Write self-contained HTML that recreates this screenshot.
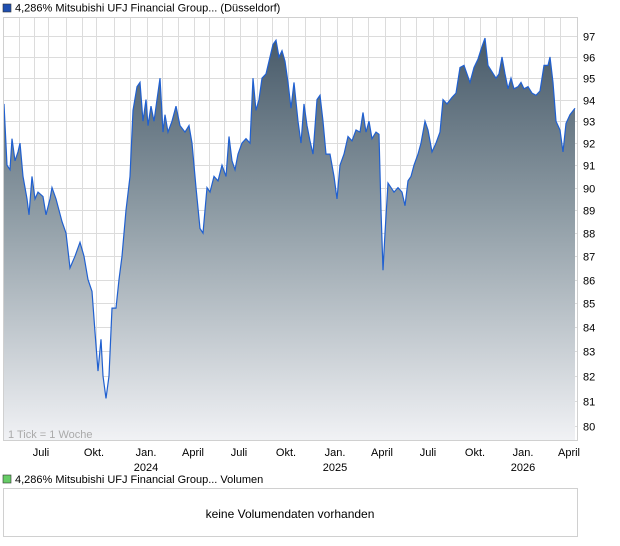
<!DOCTYPE html>
<html><head><meta charset="utf-8"><style>
body{margin:0;background:#fff;font-family:"Liberation Sans",sans-serif;}
svg{display:block}
</style></head><body>
<svg id="s" width="620" height="546" xmlns="http://www.w3.org/2000/svg" font-family="Liberation Sans, sans-serif">
<defs><linearGradient id="g" x1="0" y1="17" x2="0" y2="441" gradientUnits="userSpaceOnUse">
<stop offset="0" stop-color="#3f5262"/><stop offset="0.45" stop-color="#8c9aa3"/><stop offset="1" stop-color="#f1f2f5"/></linearGradient></defs>
<rect x="3" y="4" width="8" height="8" fill="#1f4fb0" stroke="#333" stroke-width="0.6"/>
<text x="15" y="11.5" font-size="11" fill="#000">4,286% Mitsubishi UFJ Financial Group... (Düsseldorf)</text>
<g id="grid" stroke="#dcdcdc" stroke-width="1"></g>
<path id="area" fill="url(#g)"/>
<path id="line" fill="none" stroke="#2060d0" stroke-width="1.2"/>
<rect x="3.5" y="17.5" width="574" height="423" fill="none" stroke="#d0d0d0"/>
<g id="yl" font-size="11" fill="#000"></g>
<g id="xl" font-size="11" fill="#000" text-anchor="middle"></g>
<text x="8" y="438" font-size="11" fill="#aaa">1 Tick = 1 Woche</text>
<rect x="3" y="475" width="8" height="8" fill="#6c6" stroke="#333" stroke-width="0.6"/>
<text x="15" y="483" font-size="11" fill="#000">4,286% Mitsubishi UFJ Financial Group... Volumen</text>
<rect x="3.5" y="488.5" width="574" height="48" fill="#fff" stroke="#d0d0d0"/>
<text x="290" y="518" font-size="12" fill="#000" text-anchor="middle">keine Volumendaten vorhanden</text>
</svg>
<script>
var NS="http://www.w3.org/2000/svg";
function Y(v){return 36+2024*(Math.log(97)-Math.log(v));}
var grid=document.getElementById('grid'),yl=document.getElementById('yl'),xl=document.getElementById('xl');
function el(p,t,a){var e=document.createElementNS(NS,t);for(var k in a)e.setAttribute(k,a[k]);p.appendChild(e);return e;}
for(var v=80;v<=97;v++){var y=Math.round(Y(v))+0.5;el(grid,'line',{x1:3,x2:577,y1:y,y2:y});var t=el(yl,'text',{x:583,y:y+4});t.textContent=v;}
var gx=[19,34,48,66,82,96,114,130,147,162,178,194,209,224,240,257,272,288,305,320,337,352,368,385,400,416,433,448,464,480,496,512,528,544,560];
gx.forEach(function(x){el(grid,'line',{x1:x+.5,x2:x+.5,y1:17,y2:441});});
var lab=[[41,"Juli"],[94,"Okt."],[146,"Jan.","2024"],[193,"April"],[239,"Juli"],[286,"Okt."],[335,"Jan.","2025"],[382,"April"],[428,"Juli"],[475,"Okt."],[523,"Jan.","2026"],[569,"April"]];
lab.forEach(function(l){var t=el(xl,'text',{x:l[0],y:456});t.textContent=l[1];if(l[2]){t=el(xl,'text',{x:l[0],y:471});t.textContent=l[2];}});
var d=[4,93.8,7,91,10,90.8,12,92.2,15,91.2,18,91.6,20,92,23,90.5,27,89.5,29,88.8,32,90.5,35,89.5,38,89.8,43,89.6,46,88.8,50,89.5,52,90,56,89.5,62,88.5,66,88,70,86.5,75,87,80,87.6,84,87,88,86,92,85.5,95,83.8,98,82.2,101,83.5,103,82,106,81.1,109,82,112,84.8,116,84.8,119,86,122,87,126,89,130,90.5,133,93.5,137,94.6,140,94.8,143,93,146,94,148,92.8,151,93.7,154,93,157,94,160,95,163,92.5,165,93.3,168,92.5,172,93,176,93.7,180,92.8,185,92.5,189,92.8,192,92,196,90,200,88.2,203,88,207,90,210,89.8,214,90.5,218,90.3,222,91,226,90.5,229,92.3,232,91.2,235,90.8,238,91.5,242,92,246,92.2,250,92,253,95,256,93.5,259,94,262,95,266,95.2,270,96,273,96.6,276,96.8,279,96,282,96.3,285,95.8,288,94.8,291,93.6,294,94.8,298,93,301,92,304,93.8,307,92.8,310,92.1,313,91.5,317,94,320,94.2,323,93,326,91.5,330,91.5,334,90.5,337,89.5,340,91,344,91.5,348,92.3,352,92.1,356,92.6,360,92.5,363,93.4,366,92.5,369,93,372,92.2,376,92.5,379,92.4,381,89,383,86.4,385,88,388,90.2,391,90,394,89.8,398,90,402,89.8,405,89.2,408,90.3,411,90.5,414,91,418,91.5,421,92,425,93,428,92.6,432,91.6,436,92,440,92.5,443,94,447,93.8,452,94.1,456,94.3,460,95.5,464,95.6,467,95.2,470,94.8,474,95.5,478,95.9,482,96.5,485,96.9,488,95.6,492,95.3,496,95,499,95.2,502,96,505,95.2,508,94.5,511,95,514,94.5,518,94.6,521,94.8,524,94.5,528,94.6,532,94.3,536,94.2,540,94.4,544,95.6,548,95.6,550,96,553,94.8,556,93,560,92.6,563,91.6,566,92.9,570,93.3,575,93.6];
var p="";for(var i=0;i<d.length;i+=2)p+=(i?"L":"M")+d[i]+" "+Y(d[i+1]).toFixed(1);
document.getElementById('line').setAttribute('d',p);
document.getElementById('area').setAttribute('d',p+"L575 441L4 441Z");
</script>
</body></html>
